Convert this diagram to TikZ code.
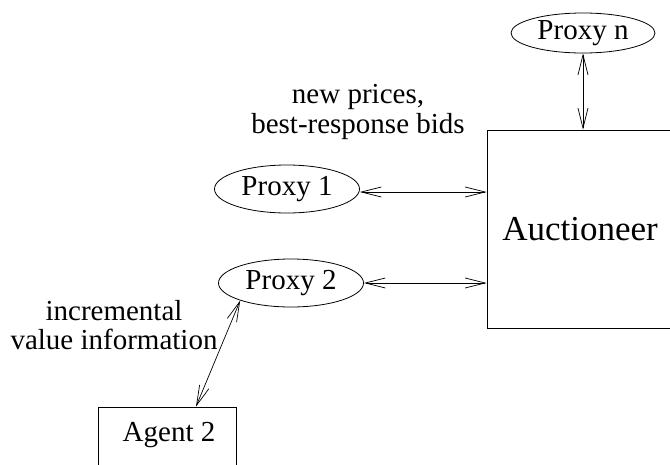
\documentclass[tikz,border=0pt]{standalone}
\usepackage{fontspec}
\setmainfont{Liberation Serif}
\usetikzlibrary{shapes.geometric,arrows.meta}
\begin{document}
\begin{tikzpicture}[x=1pt,y=-1pt,
  every node/.style={font=\fontsize{29}{29.5}\selectfont, inner sep=0pt},
  proxy/.style={draw, ellipse, line width=0.8pt, minimum width=145pt, minimum height=48pt},
  boxnode/.style={draw, rectangle, line width=0.8pt},
  lab/.style={align=center},
  conn/.style={line width=0.7pt, {Straight Barb[length=20pt,width=10pt]}-{Straight Barb[length=20pt,width=10pt]}}
]
\useasboundingbox (0,0) rectangle (670,464);
\clip (0,0) rectangle (670,464);
\node[proxy, minimum height=40pt, minimum width=144pt] (Pn) at (583,33) {Proxy n};
\node[proxy] (P1) at (287,189) {Proxy 1};
\node[proxy] (P2) at (291,283) {Proxy 2};
\node[boxnode, minimum width=186pt, minimum height=198pt, font=\fontsize{35}{40}\selectfont] (Auc) at (580,229) {Auctioneer};
\node[boxnode, minimum width=138pt, minimum height=66pt] (Agent) at (167,440) {};
\node (AgentT) at (169,435) {Agent 2};
\node[lab] (L1) at (358,112) {new prices,\\best-response bids};
\node[lab] (L2) at (114,325) {incremental\\value information};
\draw[conn] (Pn.south) -- (Pn.south |- Auc.north);
\draw[conn] ([yshift=-3pt]P1.east) -- ([yshift=-3pt]P1.east -| Auc.west);
\draw[conn] (P2.east) -- (P2.east -| Auc.west);
\draw[conn] ([xshift=29pt]Agent.north) -- (P2.199);
\end{tikzpicture}
\end{document}
